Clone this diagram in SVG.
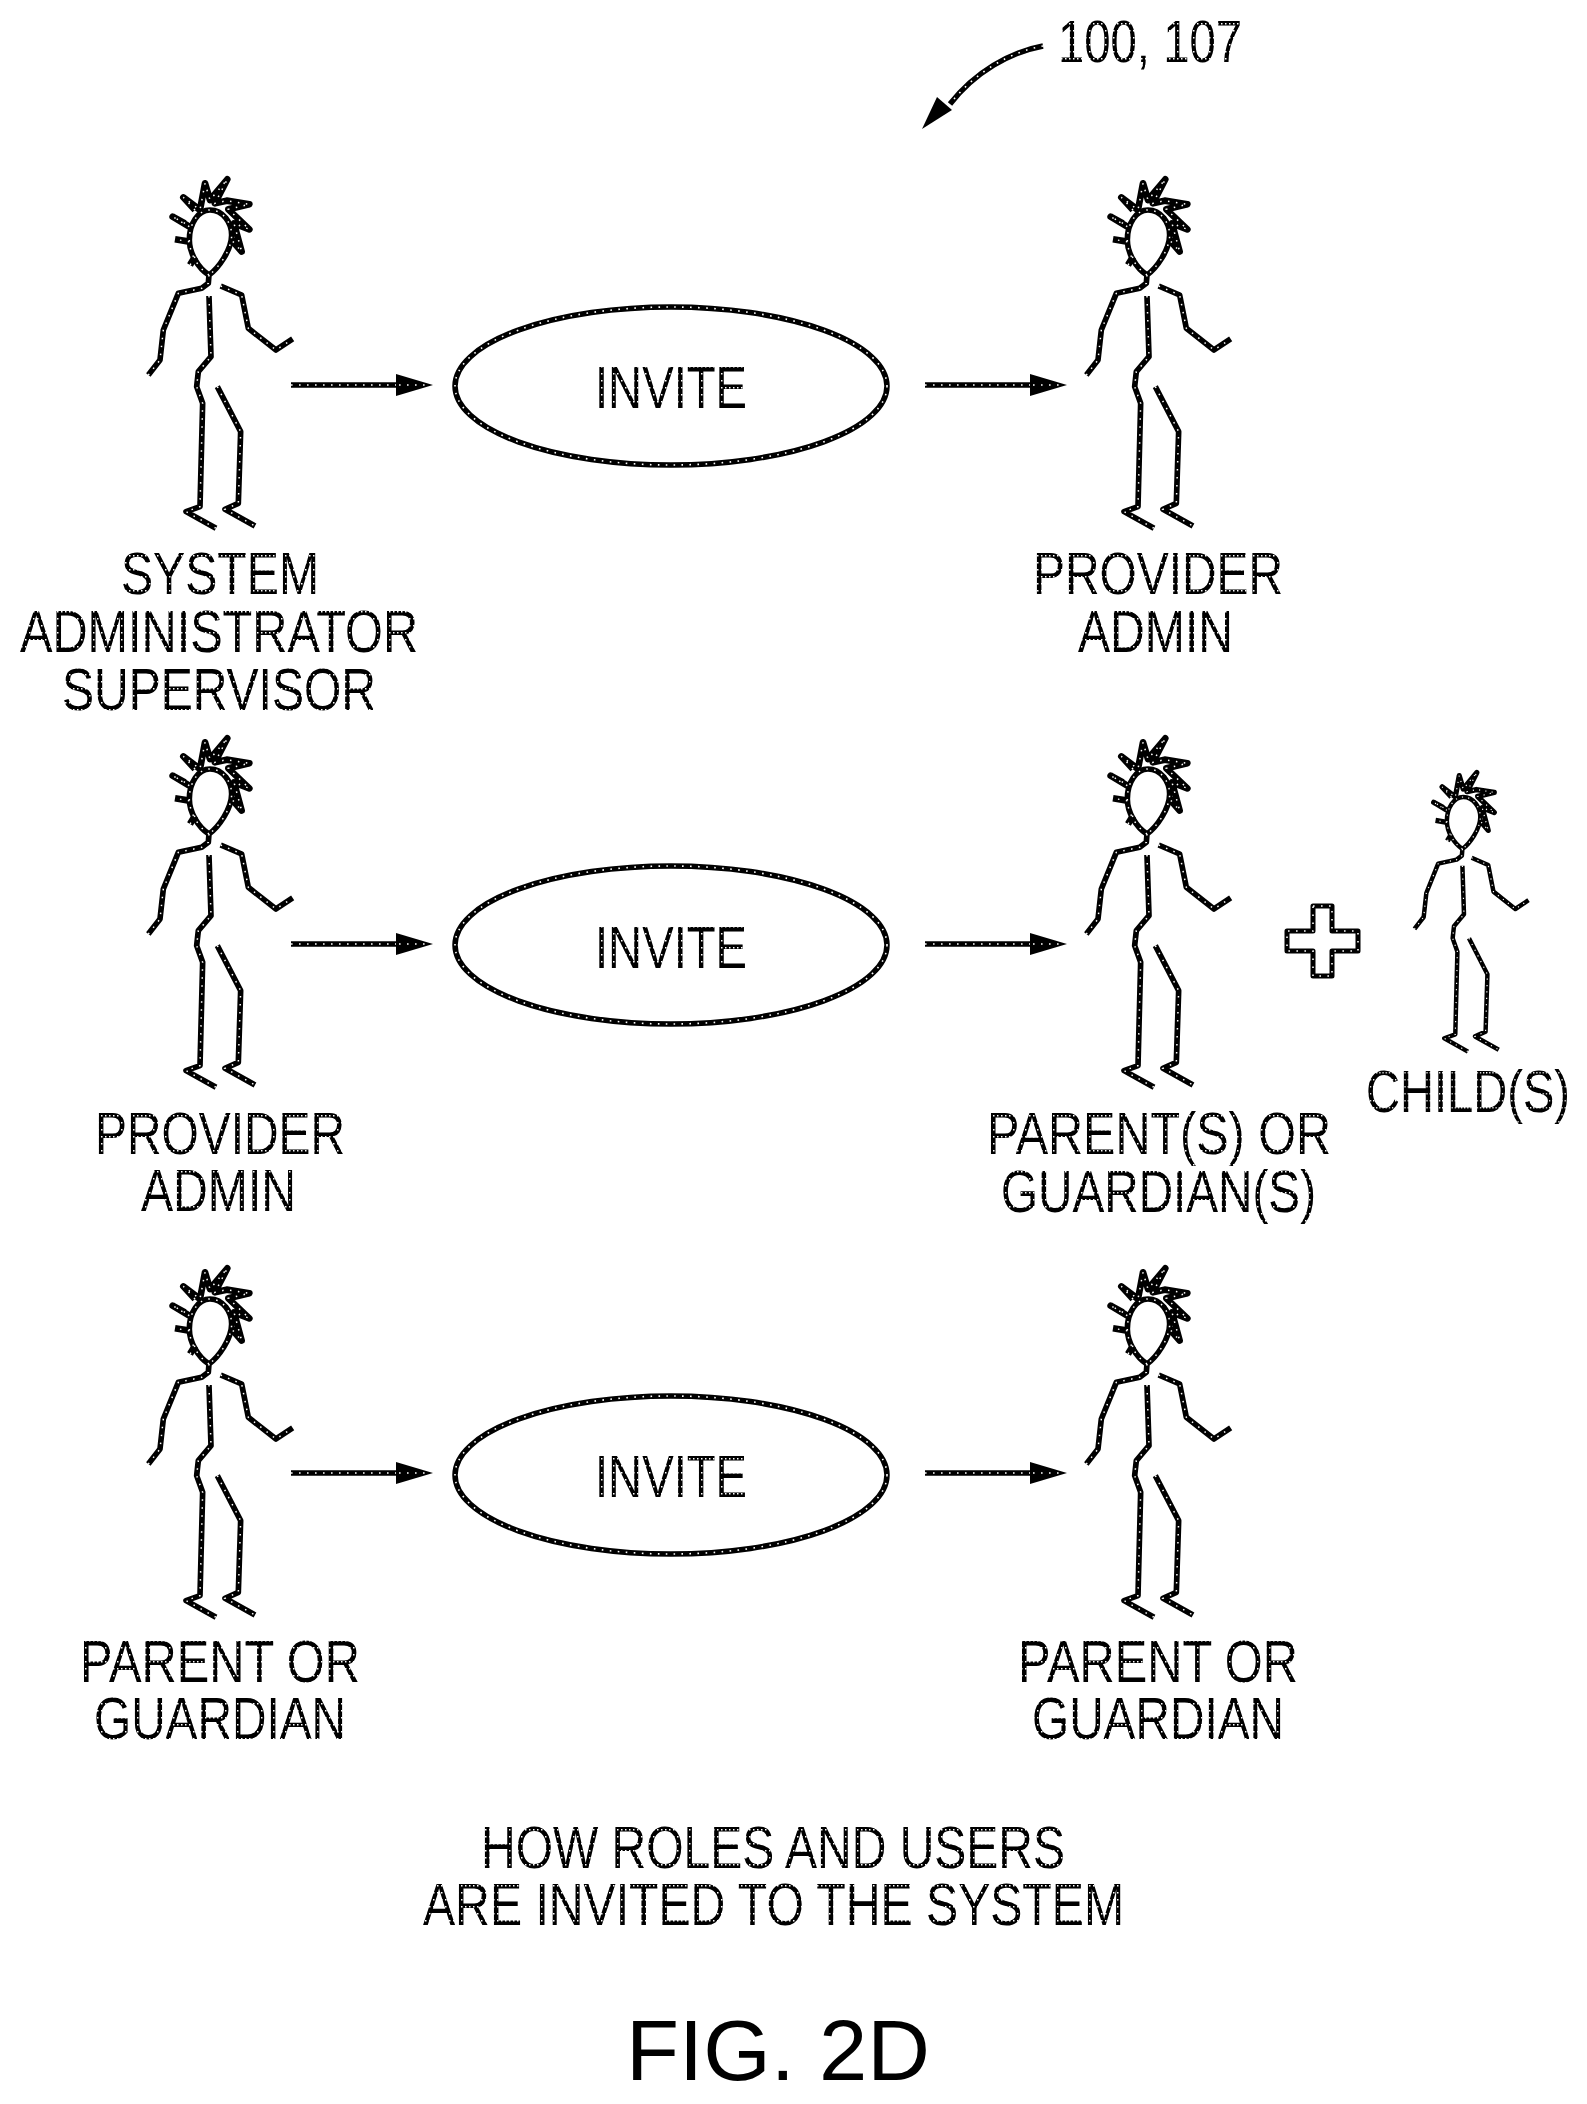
<svg xmlns="http://www.w3.org/2000/svg" width="1587" height="2104" viewBox="0 0 1587 2104">
<style>
.ink{fill:none;stroke:#000;stroke-width:5.5;stroke-linejoin:round}
.dot{fill:none;stroke:#fff;stroke-width:1.6;stroke-dasharray:1.6 6.4}
.t{font-family:"Liberation Sans",Arial,sans-serif;font-size:60px;fill:url(#tex)}
.fig{font-family:"Liberation Sans",Arial,sans-serif;font-size:85px;fill:#000}
.head{fill:#000}
</style>
<defs>
<pattern id="tex" width="4" height="7" patternUnits="userSpaceOnUse"><rect width="4" height="7" fill="#000"/><rect x="1" y="2" width="1.5" height="1.5" fill="#fff"/></pattern>
<path id="pp" transform="scale(.3333)" d="M237 345C205 325 178 280 178 240C178 190 205 150 240 150C280 150 305 190 305 225C305 270 265 325 237 345ZM237 345L235 370L215 385L145 400L100 510L90 600L55 645M272 378L335 405L355 505L438 570L488 537M237 408L243 590L205 635L200 680L218 730L210 1040L168 1055L258 1105M262 680L332 815L325 1030L285 1048L375 1098"/>
<path id="hair" transform="scale(.3333)" d="M178 245L135 238M178 200L128 170L165 190M195 150L160 112L210 150L225 70L240 120L292 58L255 130L290 122L358 133L295 148L358 208L312 190L335 275L305 240M195 290L180 315"/>
<g id="person"><use href="#pp" class="ink" style="stroke-width:17"/><use href="#hair" class="ink" style="stroke-width:20"/><use href="#pp" class="dot" style="stroke-width:4.5;stroke-dasharray:4.5 19.5"/><use href="#hair" class="dot" style="stroke-width:4.5;stroke-dasharray:4.5 19.5"/></g>
<g id="ell"><ellipse cx="0" cy="0" rx="216" ry="79" class="ink"/><ellipse cx="0" cy="0" rx="216" ry="79" class="dot"/></g>
<g id="arr"><path d="M0 0H112" class="ink"/><path d="M0 0H112" class="dot"/><path d="M105 -11L142 0L105 11Z" class="head"/><path d="M108 0H138" class="dot"/></g>
</defs>
<g id="connectors">
<use href="#arr" x="291" y="385"/><use href="#arr" x="925" y="385"/>
<use href="#arr" x="291" y="944"/><use href="#arr" x="925" y="944"/>
<use href="#arr" x="291" y="1473"/><use href="#arr" x="925" y="1473"/>
<g id="leader"><path d="M1043 46C1010 52 975 72 950 104" class="ink"/><path d="M1043 46C1010 52 975 72 950 104" class="dot"/><path d="M922 129L937 97L952 110Z" class="head"/></g>
</g>
<g id="ref"><text class="t" x="1058" y="62" textLength="184" lengthAdjust="spacingAndGlyphs">100, 107</text></g>
<g id="sysadmin"><use href="#person" x="130" y="160"/>
<text class="t" x="121" y="594" textLength="198" lengthAdjust="spacingAndGlyphs">SYSTEM</text>
<text class="t" x="20" y="652" textLength="398" lengthAdjust="spacingAndGlyphs">ADMINISTRATOR</text>
<text class="t" x="62" y="710" textLength="314" lengthAdjust="spacingAndGlyphs">SUPERVISOR</text></g>
<g id="invite1"><use href="#ell" x="671" y="386"/><text class="t" x="595" y="408" textLength="152" lengthAdjust="spacingAndGlyphs">INVITE</text></g>
<g id="provider1"><use href="#person" x="1068" y="160"/>
<text class="t" x="1033" y="594" textLength="250" lengthAdjust="spacingAndGlyphs">PROVIDER</text>
<text class="t" x="1078" y="652" textLength="155" lengthAdjust="spacingAndGlyphs">ADMIN</text></g>
<g id="provider2"><use href="#person" x="130" y="719"/>
<text class="t" x="95" y="1154" textLength="250" lengthAdjust="spacingAndGlyphs">PROVIDER</text>
<text class="t" x="141" y="1211" textLength="155" lengthAdjust="spacingAndGlyphs">ADMIN</text></g>
<g id="invite2"><use href="#ell" x="671" y="945"/><text class="t" x="595" y="968" textLength="152" lengthAdjust="spacingAndGlyphs">INVITE</text></g>
<g id="parents"><use href="#person" x="1068" y="719"/>
<text class="t" x="987" y="1154" textLength="344" lengthAdjust="spacingAndGlyphs">PARENT(S) OR</text>
<text class="t" x="1001" y="1212" textLength="315" lengthAdjust="spacingAndGlyphs">GUARDIAN(S)</text></g>
<g id="plus"><path d="M1313 906H1332V931H1358V951H1332V976H1313V951H1287V931H1313Z" class="ink" style="stroke-width:5"/><path d="M1313 906H1332V931H1358V951H1332V976H1313V951H1287V931H1313Z" class="dot"/></g>
<g id="child"><g transform="translate(1400 757) scale(.79 .8)"><use href="#person"/></g>
<text class="t" transform="translate(1366 1112) scale(.785 1)">CHILD(S)</text></g>
<g id="parent3"><use href="#person" x="130" y="1249"/>
<text class="t" x="80" y="1682" textLength="280" lengthAdjust="spacingAndGlyphs">PARENT OR</text>
<text class="t" x="94" y="1739" textLength="252" lengthAdjust="spacingAndGlyphs">GUARDIAN</text></g>
<g id="invite3"><use href="#ell" x="671" y="1475"/><text class="t" x="595" y="1497" textLength="152" lengthAdjust="spacingAndGlyphs">INVITE</text></g>
<g id="parent4"><use href="#person" x="1068" y="1249"/>
<text class="t" x="1018" y="1682" textLength="280" lengthAdjust="spacingAndGlyphs">PARENT OR</text>
<text class="t" x="1032" y="1739" textLength="252" lengthAdjust="spacingAndGlyphs">GUARDIAN</text></g>
<g id="caption"><text class="t" x="481" y="1868" textLength="584" lengthAdjust="spacingAndGlyphs">HOW ROLES AND USERS</text>
<text class="t" x="423" y="1925" textLength="701" lengthAdjust="spacingAndGlyphs">ARE INVITED TO THE SYSTEM</text>
<text class="fig" x="626" y="2080" textLength="304" lengthAdjust="spacingAndGlyphs">FIG. 2D</text></g>
</svg>
